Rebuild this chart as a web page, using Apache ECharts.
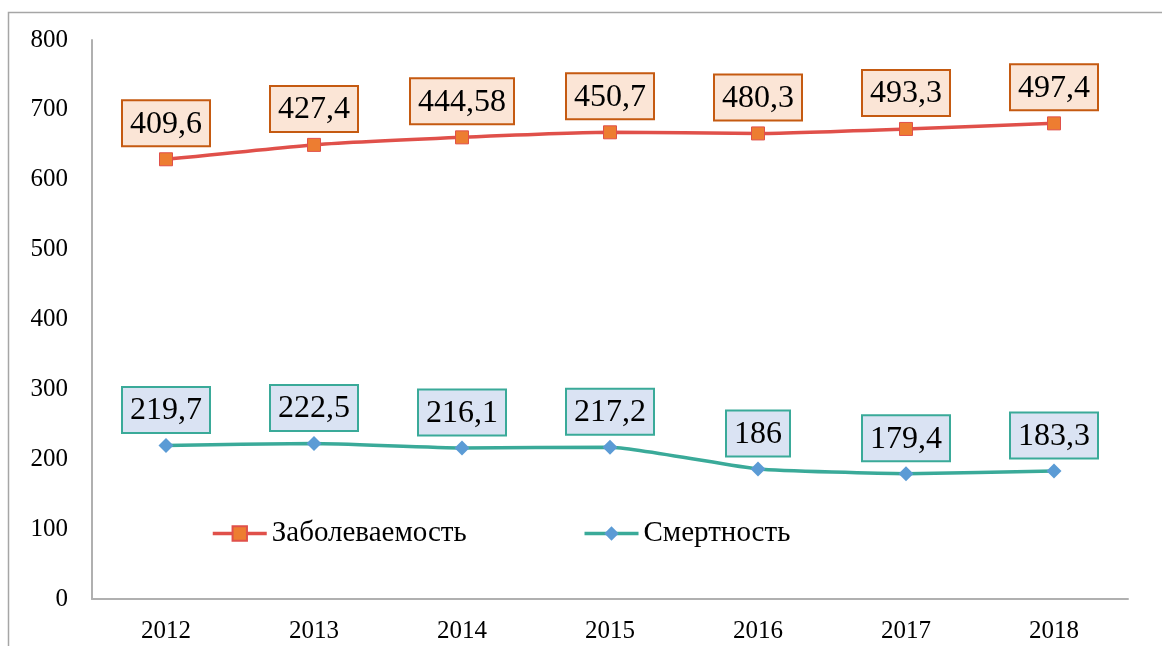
<!DOCTYPE html>
<html>
<head>
<meta charset="utf-8">
<script src="https://cdn.jsdelivr.net/npm/echarts@6/dist/echarts.min.js"></script>
<style>
  html, body { margin: 0; padding: 0; background: #fff; }
  #chart { width: 1162px; height: 646px; }
</style>
</head>
<body>
<div id="chart"></div>
<script>
// years on the x axis
const years = ['2012', '2013', '2014', '2015', '2016', '2017', '2018'];
// the chart is a stacked line chart: the red line sits on top of the teal one
const mortality = [219.7, 222.5, 216.1, 217.2, 186, 179.4, 183.3];
const incidence = [409.6, 427.4, 444.58, 450.7, 480.3, 493.3, 497.4];
const yTicks = [0, 100, 200, 300, 400, 500, 600, 700, 800];

const serif = 'Liberation Serif';

function fmt(p) {
  return String(p.value).replace('.', ',');
}

function labelStyle(bg, border, dist) {
  return {
    show: true,
    position: 'top',
    distance: dist,
    formatter: fmt,
    fontFamily: serif,
    fontSize: 32,
    color: '#000',
    backgroundColor: bg,
    borderColor: border,
    borderWidth: 2,
    padding: [6, 7, 4, 7],
    lineHeight: 34
  };
}

const chart = echarts.init(document.getElementById('chart'));
chart.setOption({
  animation: false,
  backgroundColor: '#fff',
  graphic: [{
    type: 'rect',
    shape: { x: 8.5, y: 12.5, width: 1200, height: 700 },
    style: { fill: 'none', stroke: '#a6a6a6', lineWidth: 1.5 },
    silent: true
  }],
  grid: { left: 92, top: 40, right: 34, bottom: 47 },
  legend: {
    left: 206,
    top: 514,
    itemWidth: 54,
    itemHeight: 18,
    itemGap: 116,
    lineStyle: { width: 3.5 },
    textStyle: { fontFamily: serif, fontSize: 29, color: '#000' },
    data: ['Заболеваемость', 'Смертность']
  },
  xAxis: {
    type: 'category',
    data: years,
    boundaryGap: true,
    axisLine: { lineStyle: { color: '#b0b0b0', width: 2 } },
    axisTick: { show: false },
    axisLabel: { fontFamily: serif, fontSize: 25, color: '#000', margin: 20 }
  },
  yAxis: {
    type: 'value',
    min: yTicks[0],
    max: yTicks[yTicks.length - 1],
    interval: 100,
    axisLine: { show: true, lineStyle: { color: '#b0b0b0', width: 2 } },
    axisTick: { show: false },
    splitLine: { show: false },
    axisLabel: { fontFamily: serif, fontSize: 25, color: '#000', margin: 24 }
  },
  series: [
    {
      name: 'Смертность',
      type: 'line',
      stack: 'total',
      data: mortality,
      smooth: 0.15,
      symbol: 'diamond',
      symbolSize: 15,
      lineStyle: { color: '#3aaa99', width: 3.5 },
      itemStyle: { color: '#5b9bd5', borderColor: '#5b9bd5', borderWidth: 0 },
      label: labelStyle('#dae3f3', '#3aaa99', 6),
      z: 3
    },
    {
      name: 'Заболеваемость',
      type: 'line',
      stack: 'total',
      data: incidence,
      smooth: 0.15,
      symbol: 'rect',
      symbolSize: 13,
      lineStyle: { color: '#e0504a', width: 3.5 },
      itemStyle: { color: '#ed7d31', borderColor: '#e0504a', borderWidth: 1 },
      label: labelStyle('#fbe5d6', '#c55a11', 7),
      z: 3
    }
  ]
});
</script>
</body>
</html>
